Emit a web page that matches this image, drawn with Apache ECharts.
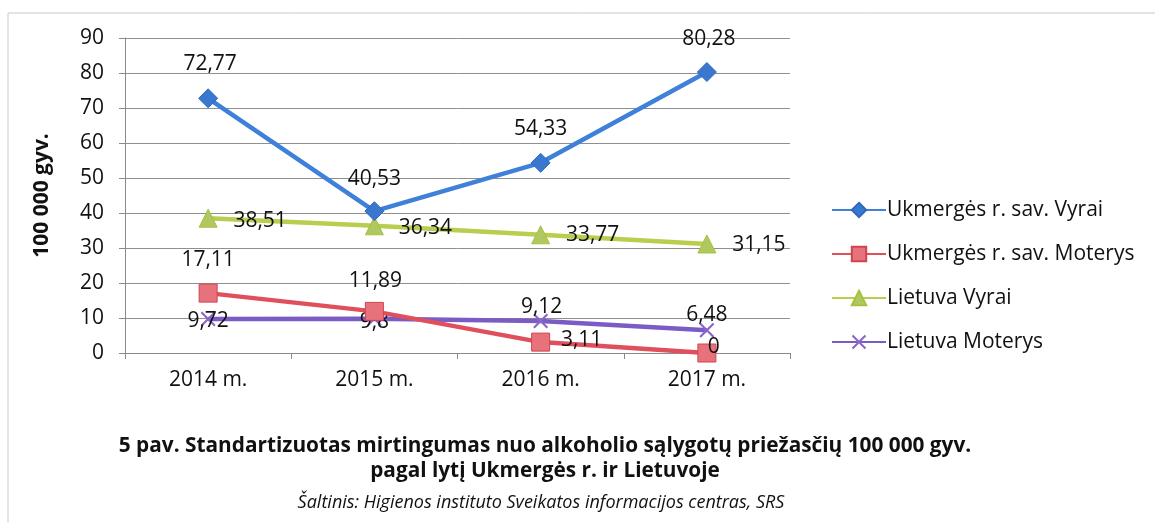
<!DOCTYPE html>
<html>
<head>
<meta charset="utf-8">
<script src="https://cdn.jsdelivr.net/npm/echarts@6/dist/echarts.min.js"></script>
<style>
  html, body { margin: 0; padding: 0; background: #fff; }
  #chart { width: 1155px; height: 522px; }
</style>
</head>
<body>
<div id="chart"></div>
<script>
// categories and values
const years = ['2014 m.', '2015 m.', '2016 m.', '2017 m.']
const ukmVyrai = [72.77, 40.53, 54.33, 80.28]
const ukmMoterys = [17.11, 11.89, 3.11, 0]
const ltVyrai = [38.51, 36.34, 33.77, 31.15]
const ltMoterys = [9.72, 9.8, 9.12, 6.48]

const seriesNames = [
  'Ukmergės r. sav. Vyrai',
  'Ukmergės r. sav. Moterys',
  'Lietuva Vyrai',
  'Lietuva Moterys',
]

const FONT = '"Open Sans", "Noto Sans", sans-serif'
const crossPath = 'path://M0,1L1,0L5,4L9,0L10,1L6,5L10,9L9,10L5,6L1,10L0,9L4,5Z'

// label offsets from the point centre, per series and point: [dx, dy]
const labelShift = [
  [[2, -34], [0, -32], [0, -34], [2, -33]],
  [[0, -33], [1, -30], [41, -2], [7, -6]],
  [[52, 3], [51, 2], [52, 0], [52, 1]],
  [[0, 2], [0, 3], [1, -14], [0, -15]],
]

const fmt = (v) => String(v).replace('.', ',')

const withLabels = (values, idx) =>
  values.map((v, i) => ({
    value: v,
    label: { position: 'inside', offset: labelShift[idx][i] },
  }))

const mkSeries = (name, values, idx, color, symbol, symbolSize, itemStyle) => ({
  name,
  type: 'line',
  data: withLabels(values, idx),
  symbol,
  symbolSize,
  lineStyle: { color, width: 4.5 },
  itemStyle,
  z: 10 - idx,
  label: {
    show: true,
    formatter: (p) => fmt(p.value),
    color: '#111',
    fontSize: 21,
    fontFamily: FONT,
  },
  emphasis: { disabled: true },
})

const chart = echarts.init(document.getElementById('chart'))

chart.setOption({
  animation: false,
  textStyle: { fontFamily: FONT },
  grid: { left: 125, right: 365, top: 38, bottom: 169 },
  legend: {
    orient: 'vertical',
    left: 826,
    top: 193,
    itemWidth: 54,
    itemHeight: 18,
    itemGap: 20,
    textStyle: { color: '#111', fontSize: 21, fontFamily: FONT, lineHeight: 24, padding: [0, 0, 0, -4] },
    data: seriesNames,
  },
  xAxis: {
    type: 'category',
    data: years,
    axisLine: { lineStyle: { color: '#8a8a8a', width: 1 } },
    axisTick: { show: true, length: 6, lineStyle: { color: '#8a8a8a' } },
    axisLabel: { color: '#111', fontSize: 21, margin: 17, fontFamily: FONT },
  },
  yAxis: {
    type: 'value',
    min: 0,
    max: 90,
    interval: 10,
    name: '100 000 gyv.',
    nameLocation: 'middle',
    nameRotate: 90,
    nameGap: 72,
    nameTextStyle: { color: '#111', fontSize: 21, fontWeight: 'bold', fontFamily: FONT },
    axisLine: { show: true, lineStyle: { color: '#8a8a8a', width: 1 } },
    axisTick: { show: true, length: 6, lineStyle: { color: '#8a8a8a' } },
    axisLabel: { color: '#111', fontSize: 21, margin: 21, fontFamily: FONT },
    splitLine: { lineStyle: { color: '#8f8f8f', width: 1 } },
  },
  series: [
    mkSeries(seriesNames[0], ukmVyrai, 0, '#3f80d8', 'diamond', 19,
      { color: '#3a78d0', borderColor: '#2f68c0', borderWidth: 1 }),
    mkSeries(seriesNames[1], ukmMoterys, 1, '#e0505c', 'rect', 18,
      { color: '#e8727c', borderColor: '#d04450', borderWidth: 1 }),
    mkSeries(seriesNames[2], ltVyrai, 2, '#b9cd4e', 'triangle', 18,
      { color: '#b0c860', borderColor: '#a8c040', borderWidth: 1 }),
    mkSeries(seriesNames[3], ltMoterys, 3, '#7a5cc4', crossPath, 15,
      { color: '#8a66c8' }),
  ],
  graphic: [
    // light frame of the chart area
    { type: 'line', shape: { x1: 8, y1: 13, x2: 1155, y2: 13 }, style: { stroke: '#c8c8c8', lineWidth: 1 } },
    { type: 'line', shape: { x1: 8, y1: 13, x2: 8, y2: 522 }, style: { stroke: '#c8c8c8', lineWidth: 1 } },
    {
      type: 'text', x: 545, y: 434,
      style: {
        text: '5 pav. Standartizuotas mirtingumas nuo alkoholio sąlygotų priežasčių 100 000 gyv.\npagal lytį Ukmergės r. ir Lietuvoje',
        fill: '#111', font: 'bold 20.8px "Open Sans", sans-serif',
        textAlign: 'center', textVerticalAlign: 'top', lineHeight: 25,
      },
    },
    {
      type: 'text', x: 541, y: 494,
      style: {
        text: 'Šaltinis: Higienos instituto Sveikatos informacijos centras, SRS',
        fill: '#111', font: 'italic 18px "Open Sans", sans-serif',
        textAlign: 'center', textVerticalAlign: 'top',
      },
    },
  ],
})
</script>
</body>
</html>
